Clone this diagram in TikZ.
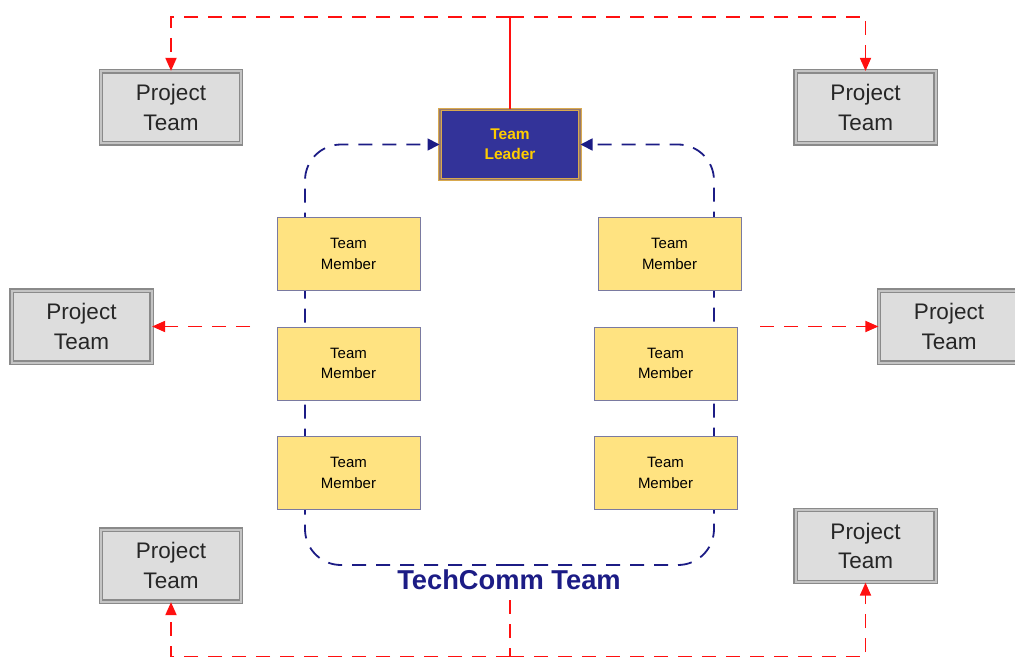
\documentclass[tikz,border=0pt]{standalone}
\usepackage{fontspec}
\setmainfont{Liberation Sans}
\usetikzlibrary{arrows.meta}
\definecolor{ptfill}{HTML}{DDDDDD}
\definecolor{ptline}{HTML}{8A8A8A}
\definecolor{memfill}{HTML}{FFE381}
\definecolor{memline}{HTML}{7A7AA0}
\definecolor{leadfill}{HTML}{333399}
\definecolor{leadline}{HTML}{D9A94E}
\definecolor{leadtext}{HTML}{FFCC00}
\definecolor{navy}{HTML}{1C1C85}
\definecolor{myred}{HTML}{FF1010}
\begin{document}
\begin{tikzpicture}[x=1pt,y=-1pt,
  ptbox/.style={draw=ptline,double=ptfill!70!ptline,double distance=2pt,line width=1.2pt,fill=ptfill,
     minimum width=140pt,minimum height=72pt,inner sep=0pt,align=center,
     font=\fontsize{22.5}{29.5}\selectfont,text=black!85},
  membox/.style={draw=memline,line width=1pt,fill=memfill,minimum width=143pt,minimum height=73pt,
     inner sep=0pt,align=center,font=\fontsize{15}{20.5}\selectfont},
  leadbox/.style={draw=leadline,double=leadline!60!leadfill,double distance=1.2pt,line width=1pt,fill=leadfill,
     minimum width=140pt,minimum height=70pt,inner sep=0pt,align=center,
     font=\fontsize{15.5}{20}\selectfont\bfseries,text=leadtext},
  redline/.style={draw=myred,line width=1.8pt},
  reddash/.style={redline,dash pattern=on 14pt off 10pt},
  redtip/.style={-{Triangle[length=13pt,width=11pt]}},
  bluedash/.style={draw=navy,line width=1.8pt,dash pattern=on 14pt off 10pt,rounded corners=36pt,
     -{Triangle[length=12pt,width=12pt]}}
]
\useasboundingbox (0,0) rectangle (1015,658);

% nodes
\node[ptbox] (ptTL) at (171,107.5) {Project\\Team};
\node[ptbox] (ptTR) at (865.5,107.5) {Project\\Team};
\node[ptbox] (ptML) at (81.5,326.5) {Project\\Team};
\node[ptbox] (ptMR) at (949,326.5) {Project\\Team};
\node[ptbox] (ptBL) at (171,565.5) {Project\\Team};
\node[ptbox] (ptBR) at (865.5,546) {Project\\Team};

\node[leadbox] (lead) at (510,144.5) {Team\\Leader};

% blue loop
\coordinate (loopbot) at (510,565);
\draw[bluedash] (loopbot) -| (305,144.5) -- (lead.west);
\draw[bluedash] (loopbot) -| (714,144.5) -- (lead.east);

\node[membox] (mL1) at (348.5,254) {Team\\Member};
\node[membox] (mL2) at (348.5,363.5) {Team\\Member};
\node[membox] (mL3) at (348.5,473) {Team\\Member};
\node[membox] (mR1) at (669.5,254) {Team\\Member};
\node[membox] (mR2) at (665.5,363.5) {Team\\Member};
\node[membox] (mR3) at (665.5,473) {Team\\Member};

\node[font=\fontsize{27.3}{30}\selectfont\bfseries,text=navy] (title) at (509,580) {TechComm Team};

% red connectors top
\coordinate (topj) at (510,17);
\draw[redline] (lead.north) -- (topj);
\draw[reddash,redtip] (topj) -| (ptTL.north);
\draw[reddash,redtip] (topj) -| (ptTR.north);

% middle
\coordinate (ml) at (250,326.5);
\coordinate (mr) at (760,326.5);
\draw[reddash,redtip] (ml) -- (ptML.east);
\draw[reddash,redtip] (mr) -- (ptMR.west);

% bottom
\coordinate (botj) at (510,600);
\coordinate (botm) at (510,656.5);
\draw[reddash] (botj) -- (botm);
\draw[reddash,redtip] (botm) -| (ptBL.south);
\draw[reddash,redtip] (botm) -| (ptBR.south);
\end{tikzpicture}
\end{document}
